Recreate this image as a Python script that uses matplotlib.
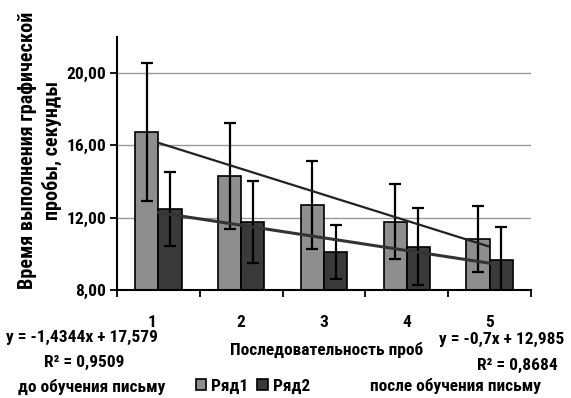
import numpy as np
import matplotlib
matplotlib.use("Agg")
import matplotlib.pyplot as plt
import matplotlib.transforms as mtransforms
from matplotlib.patches import Patch

# data
probes = [1, 2, 3, 4, 5]
ryad1 = [16.74, 14.31, 12.70, 11.78, 10.82]
err1 = [3.81, 2.94, 2.42, 2.07, 1.85]
ryad2 = [12.48, 11.76, 10.12, 10.40, 9.66]
err2 = [2.05, 2.27, 1.50, 2.15, 1.85]
yticks = [8, 12, 16, 20]

plt.rcParams['font.family'] = ['Roboto Condensed', 'PT Sans Narrow', 'DejaVu Sans']
plt.rcParams['font.weight'] = 'bold'
plt.rcParams['font.size'] = 12.5

W, H = 571, 398
fig = plt.figure(figsize=(W / 100, H / 100), dpi=100)
ax = fig.add_axes([117 / W, 1 - 290 / H, (531 - 117) / W, (290 - 37) / H])

def px(x, y):
    return x / W, 1 - y / H

x = np.array(probes)
wd = 0.28
c1 = '#8e8e8e'
c2 = '#3a3a3a'
ax.bar(x - wd / 2, ryad1, wd, bottom=0, color=c1, edgecolor='black', linewidth=1.2, zorder=2)
ax.bar(x + wd / 2, ryad2, wd, bottom=0, color=c2, edgecolor='black', linewidth=1.2, zorder=2)
ax.errorbar(x - wd / 2, ryad1, yerr=err1, fmt='none', ecolor='black', elinewidth=1.6,
            capsize=4.5, capthick=1.6, zorder=3)
ax.errorbar(x + wd / 2, ryad2, yerr=err2, fmt='none', ecolor='black', elinewidth=1.6,
            capsize=4.5, capthick=1.6, zorder=3)

# linear trend lines
k1, b1 = np.polyfit(x, ryad1, 1)
k2, b2 = np.polyfit(x, ryad2, 1)
ax.plot([1, 5], [k1 * 1 + b1, k1 * 5 + b1], color='#222222', lw=1.6, zorder=4)
ax.plot([1, 5], [k2 * 1 + b2, k2 * 5 + b2], color='#333333', lw=2.2, zorder=4)

ax.set_xlim(0.5, 5.5)
ax.set_ylim(8, 22)
ax.set_yticks(yticks)
ax.set_yticklabels([('%.2f' % v).replace('.', ',') for v in yticks])
ax.set_xticks(x)
ax.set_xticklabels([str(p) for p in probes])
ax.set_xticks(np.arange(0.5, 6, 1), minor=True)
ax.tick_params(axis='x', which='major', length=0, pad=18)
ax.tick_params(axis='x', which='minor', length=5, width=1.3, direction='out')
ax.tick_params(axis='y', length=5, width=1.3, direction='out', pad=3)
ax.grid(axis='y', color='#999999', lw=1, zorder=0)
ax.set_axisbelow(True)
for s in ['top', 'right']:
    ax.spines[s].set_visible(False)
ax.spines['left'].set_linewidth(1.5)
ax.spines['bottom'].set_linewidth(1.5)

# first tick label sits a bit left in the original
lab = ax.get_xticklabels()[0]
lab.set_transform(lab.get_transform() + mtransforms.ScaledTranslation(-6 / 100, 0, fig.dpi_scale_trans))

fig.text(*px(40, 150), 'Время выполнения графической\nпробы, секунды', rotation=90,
         ha='center', va='center', multialignment='center', linespacing=1.25, fontsize=14.5)
fig.text(*px(327, 350), 'Последовательность проб', ha='center', va='center')

fig.text(*px(82, 337), 'y = -1,4344x + 17,579', ha='center', va='center')
fig.text(*px(84, 362), 'R² = 0,9509', ha='center', va='center')
fig.text(*px(92, 387), 'до обучения письму', ha='center', va='center')
fig.text(*px(502, 339), 'y = -0,7x + 12,985', ha='center', va='center')
fig.text(*px(517, 365), 'R² = 0,8684', ha='center', va='center')
fig.text(*px(456, 386), 'после обучения письму', ha='center', va='center')

handles = [Patch(facecolor=c1, edgecolor='black', lw=1.2, label='Ряд1'),
           Patch(facecolor=c2, edgecolor='black', lw=1.2, label='Ряд2')]
fig.legend(handles=handles, loc='center', bbox_to_anchor=px(253, 386), ncol=2, frameon=False,
           handlelength=0.6, handleheight=0.6, handletextpad=0.3, columnspacing=0.5,
           borderpad=0, borderaxespad=0)

fig.savefig('out.png', dpi=100)
